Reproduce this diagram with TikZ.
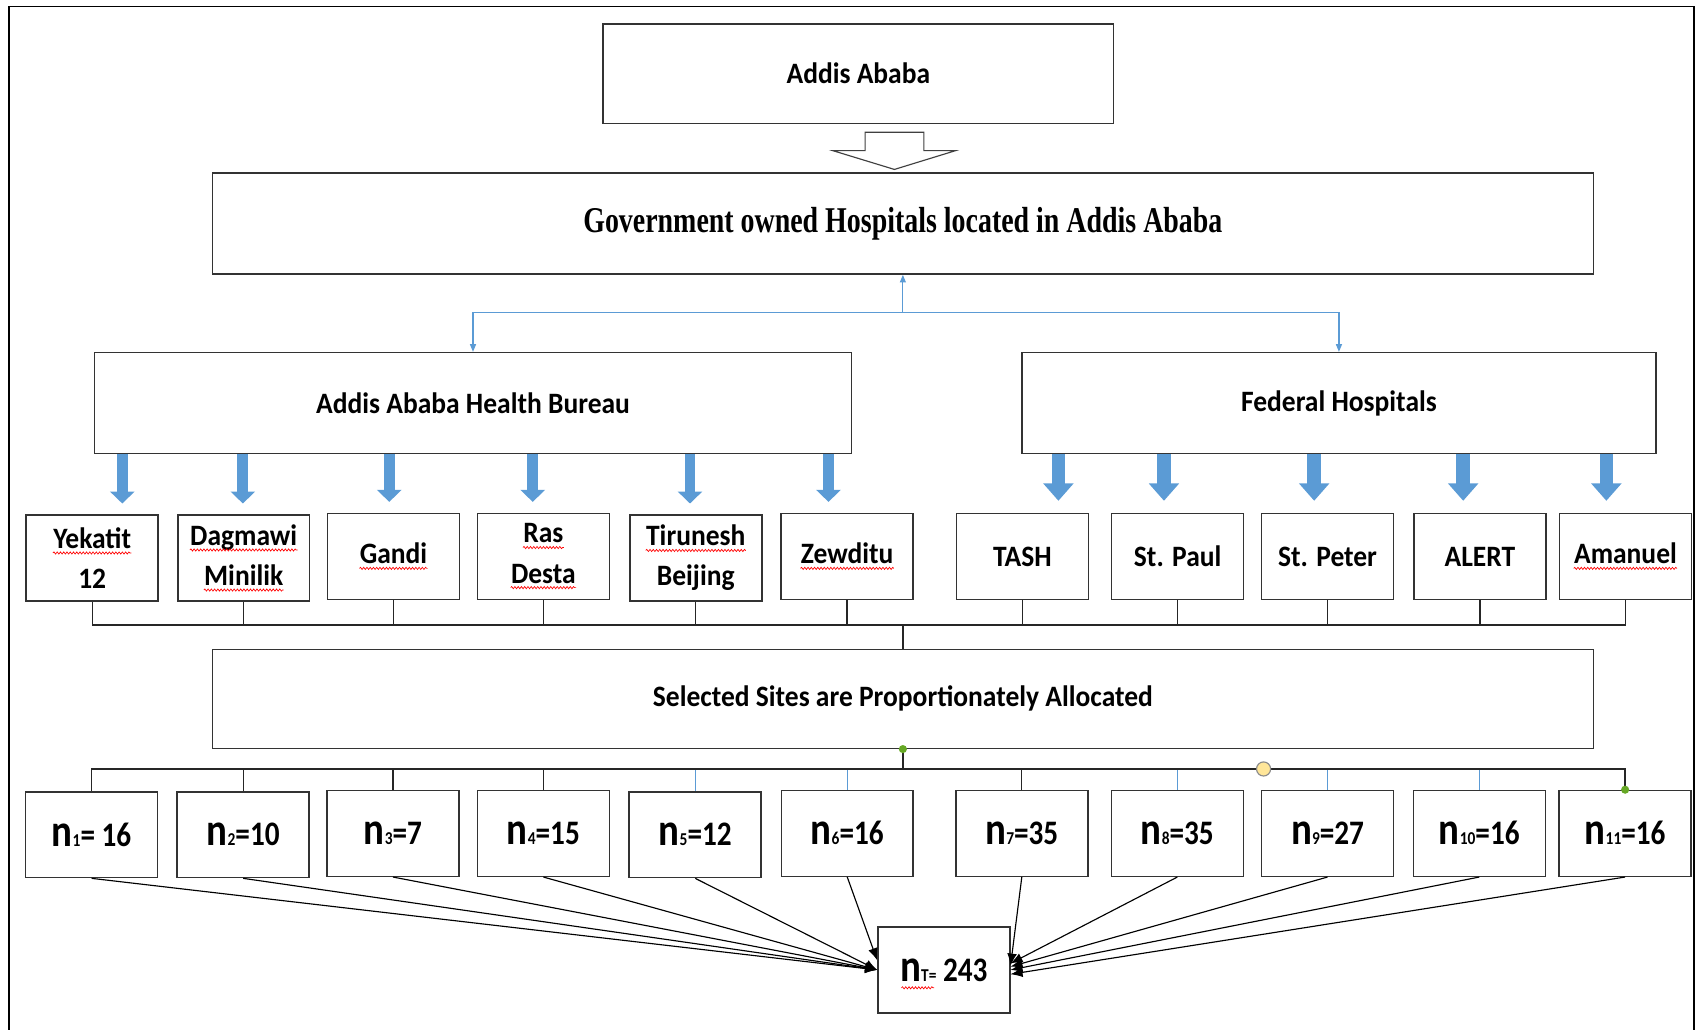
\documentclass[tikz,border=0pt]{standalone}
\usepackage{fontspec}
\usetikzlibrary{arrows.meta, calc, decorations.pathmorphing}
\newfontfamily\calfont[FakeStretch=0.93]{Carlito}
\newfontfamily\cntfont[FakeStretch=0.85]{Carlito}
\newfontfamily\tmsfont[FakeStretch=0.77]{Liberation Serif}
\definecolor{boxBlue}{HTML}{5B9BD5}
\definecolor{dotGreen}{HTML}{66A825}
\definecolor{dotYellow}{HTML}{FFE699}
\def\unitpx{0.2mm}
\tikzset{spell wave/.style={red, line width=0.35pt, decorate, decoration={snake, amplitude=0.2mm, segment length=0.6mm}}}
% red wavy underline of the word processor
\newcommand\spellerr[1]{\tikz[baseline=(w.base)]{\node[inner sep=0pt, draw=none, minimum size=0pt] (w) {#1};
  \draw[spell wave] ([yshift=-2.4pt]w.base west) -- ([yshift=-2.4pt]w.base east);}}
% sample size label n_i=...
\newcommand\nval[2]{{\fontsize{24}{24}\selectfont n}{\fontsize{9.5}{10}\selectfont #1}#2}

\begin{document}
\begin{tikzpicture}[x=\unitpx, y=-\unitpx, font=\calfont\bfseries\fontsize{15.5}{21}\selectfont]
  \tikzstyle{box}=[draw=black!80, line width=0.8pt, inner sep=0pt, align=center]
  \tikzstyle{wide box}=[box, minimum width=1271.4*\unitpx, minimum height=92*\unitpx]
  \tikzstyle{site}=[box, minimum width=121.5*\unitpx, minimum height=79*\unitpx]
  \tikzstyle{count}=[site, font=\cntfont\bfseries\fontsize{18}{22}\selectfont]
  \tikzstyle{link}=[draw=black!85, line width=0.7pt]
  \tikzstyle{blue link}=[draw=boxBlue, line width=0.6pt]
  \tikzstyle{blk arrow}=[color=boxBlue, line width=2mm, -{Triangle[length=2.2mm, width=4.4mm]}, shorten >=2mm]
  \tikzstyle{big blk arrow}=[color=boxBlue, line width=2.5mm, -{Triangle[length=3.2mm, width=5.4mm]}, shorten >=2.2mm]
  \tikzstyle{sum arrow}=[draw=black, line width=0.6pt, -{Latex[length=2.2mm, width=1.8mm]}]

  \useasboundingbox (0,0) rectangle (1568,948);
  \draw[line width=1pt] (8,948) -- (8,6) -- (1560,6) -- (1560,948);

  % Top of the tree
  \node[box, minimum width=470*\unitpx, minimum height=91.5*\unitpx] (city) at (790.3,67.8) {Addis Ababa};
  \node[wide box, minimum height=93.3*\unitpx, font=\tmsfont\bfseries\fontsize{19}{22}\selectfont]
    (gov) at (831.3,205.7) {Government owned Hospitals located in Addis Ababa};
  \draw[draw=black!75, fill=white, line width=0.6pt]
    (796.5,121.8) -- (850.6,121.8) -- (850.6,138.7) -- (879.8,138.7) -- (823.5,156)
    -- (766.8,138.7) -- (796.5,138.7) -- cycle;

  % Two owners
  \node[box, minimum width=696.7*\unitpx, minimum height=92.7*\unitpx] (aahb) at (435.5,371) {Addis Ababa Health Bureau};
  \node[box, minimum width=583.6*\unitpx, minimum height=92.7*\unitpx] (fed) at (1232.8,371) {Federal Hospitals};
  \coordinate (split) at (831.3,288);
  \draw[blue link, -{Triangle[length=1.4mm, width=1.1mm]}] (split) -- (gov.south);
  \draw[blue link, -{Triangle[length=1.4mm, width=1.1mm]}] (split) -| (aahb.north);
  \draw[blue link, -{Triangle[length=1.4mm, width=1.1mm]}] (split) -| (fed.north);

  % Hospitals
  \foreach \name/\x/\y/\txt in {
      h1/84.9/513.8/{\spellerr{Yekatit}\\12},
      h2/224.4/513.8/{\spellerr{Dagmawi}\\\spellerr{Minilik}},
      h3/362.3/512.3/{\spellerr{Gandi}},
      h4/500.3/512.3/{\spellerr{Ras}\\\spellerr{Desta}},
      h5/640.6/513.8/{\spellerr{Tirunesh}\\Beijing},
      h6/780/512.3/{\spellerr{Zewditu}},
      h7/941.3/512.3/TASH,
      h8/1084.3/512.3/St. Paul,
      h9/1222.3/512.3/St. Peter,
      h10/1362.6/512.3/ALERT,
      h11/1496.6/512.3/{\spellerr{Amanuel}}}
    \node[site] (\name) at (\x,\y) {\txt};

  \foreach \x/\h in {112.6/h1, 223.6/h2, 358.4/h3, 490.5/h4, 635.3/h5, 762.8/h6}
    \draw[blk arrow] (aahb.south -| \x,0) -- (\h.north -| \x,0);
  \foreach \x/\h in {974.5/h7, 1071.7/h8, 1210/h9, 1347.2/h10, 1479/h11}
    \draw[big blk arrow] (fed.south -| \x,0) -- (\h.north -| \x,0);

  % Selected sites
  \node[wide box, minimum height=91.2*\unitpx] (sel) at (831.3,643.4) {Selected Sites are Proportionately Allocated};
  \coordinate (upbus) at (831.3,575.5);
  \foreach \i in {1,...,11}
    \draw[link] (h\i.south) |- (upbus) -- (sel.north);

  % Sample sizes
  \foreach \name/\x/\y/\sub/\rest in {
      n1/84.3/768.5/1/{= 16}, n2/223.9/768.5/2/{=10}, n3/361.8/767.3/3/{=7},
      n4/500.3/767.3/4/{=15}, n5/640.1/768.5/5/{=12}, n6/780.1/767.3/6/{=16},
      n7/940.8/767.3/7/{=35}, n8/1084/767.3/8/{=35}, n9/1222.3/767.3/9/{=27},
      n10/1362/767.3/10/{=16}, n11/1496.3/767.3/11/{=16}}
    \node[count] (\name) at (\x,\y) {\nval{\sub}{\rest}};

  \coordinate (lowbus) at (831.3,708);
  \foreach \i in {5,6,8,9,10}
    \draw[blue link] (sel.south) -- (lowbus) -| (n\i.north);
  \foreach \i in {1,2,3,4,7,11}
    \draw[link] (sel.south) -- (lowbus) -| (n\i.north);
  \fill[dotGreen] (sel.south) circle[radius=0.75mm];
  \fill[dotGreen] (n11.north) circle[radius=0.75mm];
  \draw[fill=dotYellow, draw=black!45, line width=0.6pt] (1163.4,708) circle[radius=1.3mm];

  % Total
  \node[count] (nT) at (869,893) {\nval{T=}{ 243}};
  \draw[spell wave] ($(nT.center)+(-39,16.5)$) -- ++(30,0);
  \foreach \i in {1,...,5}
    \draw[sum arrow] (n\i.south) -- (nT.west);
  \draw[sum arrow] (n6.south) -- ([yshift=1.8mm]nT.west);
  \draw[sum arrow] (n7.south) -- ([yshift=0.8mm]nT.east);
  \draw[sum arrow] (n8.south) -- ([yshift=1.2mm]nT.east);
  \draw[sum arrow] (n9.south) -- ([yshift=0.6mm]nT.east);
  \draw[sum arrow] (n10.south) -- (nT.east);
  \draw[sum arrow] (n11.south) -- ([yshift=-0.8mm]nT.east);
\end{tikzpicture}
\end{document}
